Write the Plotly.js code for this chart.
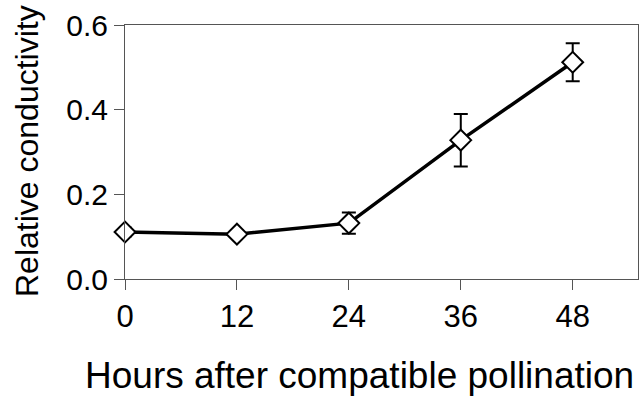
<!DOCTYPE html>
<html>
<head>
<meta charset="utf-8">
<script src="https://cdn.plot.ly/plotly-3.0.1.min.js"></script>
<style>html,body{margin:0;padding:0;background:#fff;}#chart{width:644px;height:397px;}</style>
</head>
<body>
<div id="chart"></div>
<script>
const hours = [0, 12, 24, 36, 48];
const conductivity = [0.111, 0.106, 0.132, 0.328, 0.512];
const errors = [0.010, 0.008, 0.025, 0.062, 0.045];
const xTicks = [0, 12, 24, 36, 48];
const yTicks = [0.0, 0.2, 0.4, 0.6];
const yTickLabels = ['0.0', '0.2', '0.4', '0.6'];
const xTitle = 'Hours after compatible pollination';
const yTitle = 'Relative conductivity';

const font = 'Liberation Sans, Arial, Helvetica, sans-serif';

const trace = {
  x: hours,
  y: conductivity,
  type: 'scatter',
  mode: 'lines+markers',
  cliponaxis: false,
  line: {color: '#000', width: 3.5},
  marker: {symbol: 'diamond', size: 16, color: '#fff', line: {color: '#000', width: 2}},
  error_y: {type: 'data', array: errors, visible: true, color: '#000', thickness: 2, width: 7}
};

const layout = {
  width: 644, height: 397,
  margin: {l: 125, r: 6, t: 25, b: 118},
  paper_bgcolor: '#fff', plot_bgcolor: '#fff',
  showlegend: false,
  font: {family: font, color: '#000'},
  xaxis: {
    range: [0, 55], tickvals: xTicks, ticktext: xTicks.map(String),
    showgrid: false, zeroline: false,
    showline: true, mirror: true, linecolor: '#555', linewidth: 1,
    ticks: 'outside', ticklen: 10, tickcolor: '#555', tickwidth: 1,
    tickfont: {size: 31, family: font, color: '#000'}, ticklabelstandoff: 0
  },
  yaxis: {
    range: [0, 0.6], tickvals: yTicks, ticktext: yTickLabels,
    showgrid: false, zeroline: false,
    showline: true, mirror: true, linecolor: '#555', linewidth: 1,
    ticks: 'outside', ticklen: 10, tickcolor: '#555', tickwidth: 1,
    tickfont: {size: 30, family: font, color: '#000'}, ticklabelstandoff: 0
  },
  annotations: [
    {text: xTitle, xref: 'paper', yref: 'paper', x: 0.458, y: -0.378,
     xanchor: 'center', yanchor: 'middle', showarrow: false,
     font: {size: 37, family: font, color: '#000'}},
    {text: yTitle, xref: 'paper', yref: 'paper', x: -0.191, y: 0.504,
     xanchor: 'center', yanchor: 'middle', showarrow: false, textangle: -90,
     font: {size: 32, family: font, color: '#000'}}
  ]
};

Plotly.newPlot('chart', [trace], layout, {displayModeBar: false, staticPlot: true});
</script>
</body>
</html>
